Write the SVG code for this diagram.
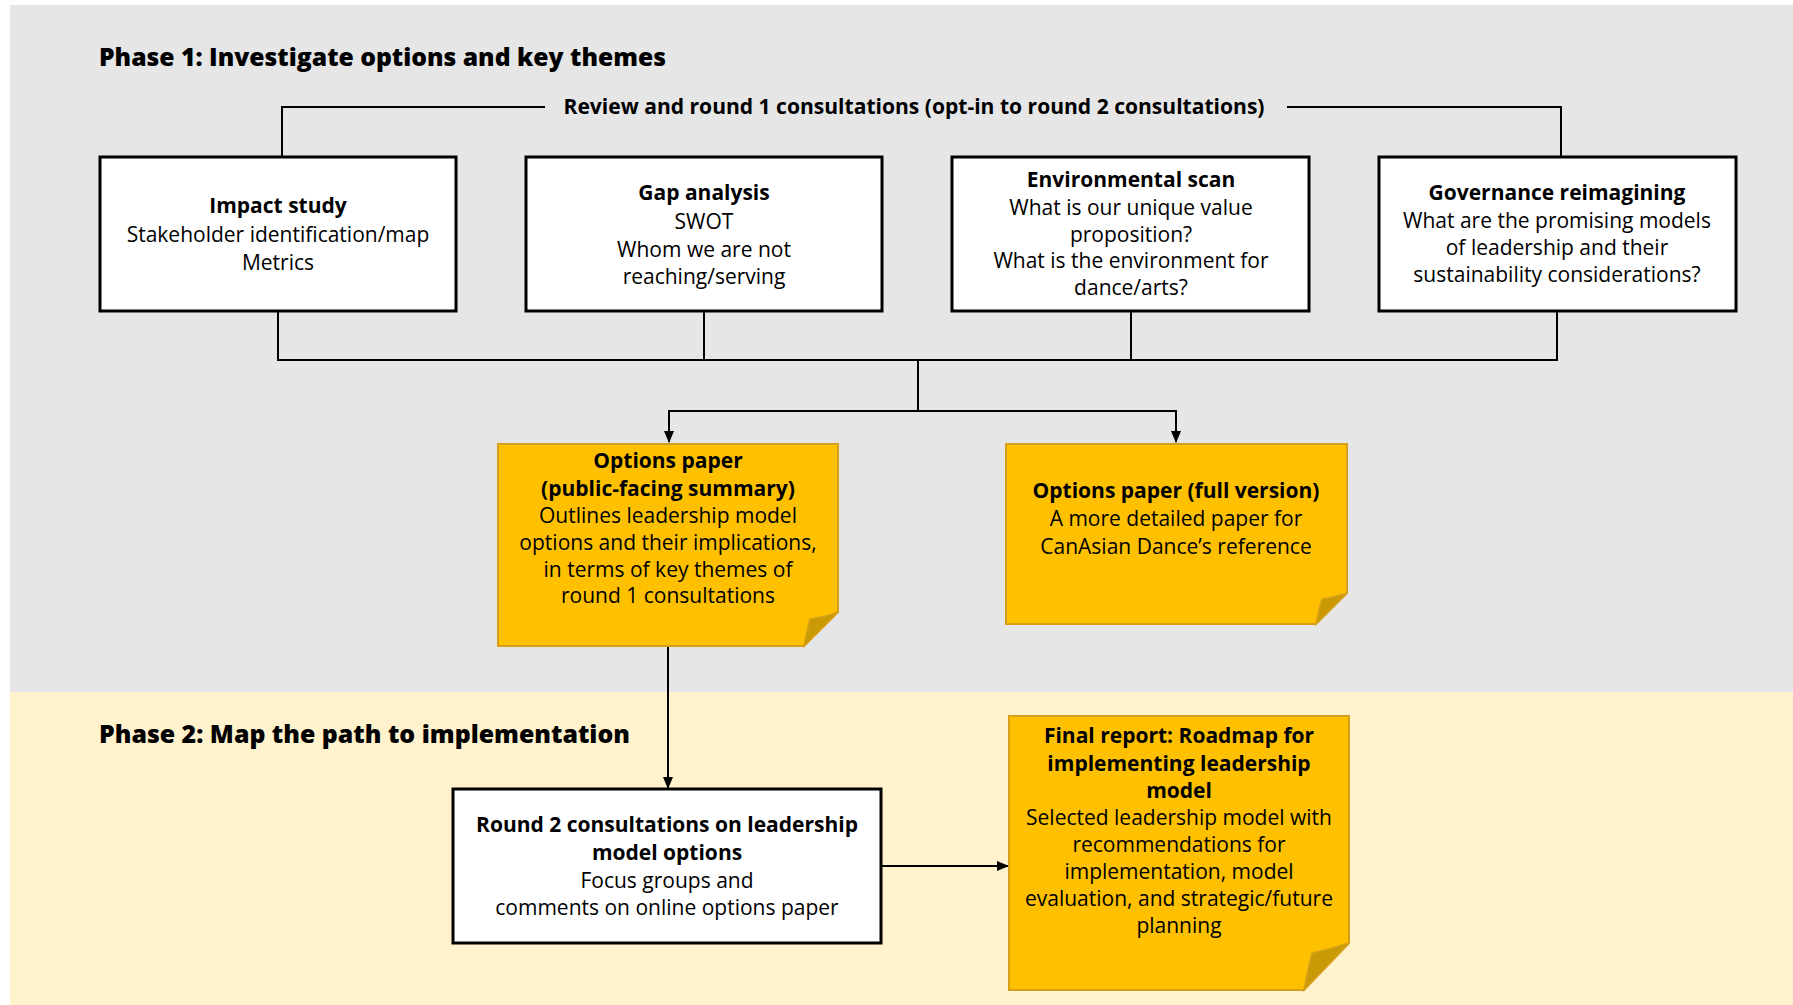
<svg xmlns="http://www.w3.org/2000/svg" width="1793" height="1005" viewBox="0 0 1793 1005">
<defs>
<style>
.t{font-family:"Open Sans","Noto Sans",sans-serif;font-size:21px;fill:#000;text-anchor:middle}
.b{font-weight:700}
.ph{font-family:"Open Sans","Noto Sans",sans-serif;font-weight:800;font-size:25px;fill:#000}
.box{fill:#fff;stroke:#000;stroke-width:3}
.note{fill:#FFC000;stroke:#D4A017;stroke-width:2}
.fold{fill:#C99A06;stroke:#D4A017;stroke-width:1.5}
.ln{fill:none;stroke:#000;stroke-width:2}
</style>
<marker id="arr" viewBox="0 0 12 10" refX="11" refY="5" markerWidth="12" markerHeight="10" orient="auto" markerUnits="userSpaceOnUse">
<path d="M0,0 L12,5 L0,10 Z" fill="#000"/>
</marker>
</defs>
<rect x="0" y="0" width="1793" height="1005" fill="#fff"/>
<rect x="10" y="5" width="1783" height="687" fill="#E6E6E6"/>
<rect x="10" y="692" width="1783" height="313" fill="#FFF2CC"/>

<text class="ph" x="99" y="66" textLength="567" lengthAdjust="spacingAndGlyphs">Phase 1: Investigate options and key themes</text>
<text class="ph" x="99" y="743" textLength="531" lengthAdjust="spacingAndGlyphs">Phase 2: Map the path to implementation</text>

<g id="connectors">
<polyline class="ln" points="282,157 282,107 545,107"/>
<polyline class="ln" points="1287,107 1561,107 1561,157"/>
<text class="t b" x="914" y="114" textLength="701" lengthAdjust="spacingAndGlyphs">Review and round 1 consultations (opt-in to round 2 consultations)</text>
<line class="ln" x1="278" y1="311" x2="278" y2="360"/>
<line class="ln" x1="704" y1="311" x2="704" y2="360"/>
<line class="ln" x1="1131" y1="311" x2="1131" y2="360"/>
<line class="ln" x1="1557" y1="311" x2="1557" y2="360"/>
<line class="ln" x1="277" y1="360" x2="1558" y2="360"/>
<line class="ln" x1="918" y1="360" x2="918" y2="411"/>
<polyline class="ln" points="669,441 669,411 1176,411"/>
<line class="ln" x1="669" y1="420" x2="669" y2="442" marker-end="url(#arr)"/>
<line class="ln" x1="1176" y1="410" x2="1176" y2="442" marker-end="url(#arr)"/>
<line class="ln" x1="668" y1="646" x2="668" y2="788" marker-end="url(#arr)"/>
<line class="ln" x1="881" y1="866" x2="1008" y2="866" marker-end="url(#arr)"/>
</g>

<g id="impact-study">
<rect class="box" x="100" y="157" width="356" height="154"/>
<text class="t b" x="278" y="213">Impact study</text>
<text class="t" x="278" y="242">Stakeholder identification/map</text>
<text class="t" x="278" y="270">Metrics</text>
</g>

<g id="gap-analysis">
<rect class="box" x="526" y="157" width="356" height="154"/>
<text class="t b" x="704" y="200">Gap analysis</text>
<text class="t" x="704" y="229">SWOT</text>
<text class="t" x="704" y="257">Whom we are not</text>
<text class="t" x="704" y="284">reaching/serving</text>
</g>

<g id="environmental-scan">
<rect class="box" x="952" y="157" width="357" height="154"/>
<text class="t b" x="1131" y="187">Environmental scan</text>
<text class="t" x="1131" y="215">What is our unique value</text>
<text class="t" x="1131" y="242">proposition?</text>
<text class="t" x="1131" y="268">What is the environment for</text>
<text class="t" x="1131" y="295">dance/arts?</text>
</g>

<g id="governance-reimagining">
<rect class="box" x="1379" y="157" width="357" height="154"/>
<text class="t b" x="1557" y="200">Governance reimagining</text>
<text class="t" x="1557" y="228">What are the promising models</text>
<text class="t" x="1557" y="255">of leadership and their</text>
<text class="t" x="1557" y="282">sustainability considerations?</text>
</g>

<g id="options-summary">
<path class="note" d="M498,444 H838 V612 L804,646 H498 Z"/>
<path class="fold" d="M838,612 L804,646 Q807,630 810,619 Q825,617 838,612 Z"/>
<text class="t b" x="668" y="468">Options paper</text>
<text class="t b" x="668" y="496">(public-facing summary)</text>
<text class="t" x="668" y="523">Outlines leadership model</text>
<text class="t" x="668" y="550">options and their implications,</text>
<text class="t" x="668" y="577">in terms of key themes of</text>
<text class="t" x="668" y="603">round 1 consultations</text>
</g>

<g id="options-full">
<path class="note" d="M1006,444 H1347 V593 L1316,624 H1006 Z"/>
<path class="fold" d="M1347,593 L1316,624 Q1319,608 1322,599 Q1335,597 1347,593 Z"/>
<text class="t b" x="1176" y="498">Options paper (full version)</text>
<text class="t" x="1176" y="526">A more detailed paper for</text>
<text class="t" x="1176" y="554">CanAsian Dance’s reference</text>
</g>

<g id="round2">
<rect class="box" x="453" y="789" width="428" height="154"/>
<text class="t b" x="667" y="832">Round 2 consultations on leadership</text>
<text class="t b" x="667" y="860">model options</text>
<text class="t" x="667" y="888">Focus groups and</text>
<text class="t" x="667" y="915">comments on online options paper</text>
</g>

<g id="final-report">
<path class="note" d="M1009,716 H1349 V943 L1304,990 H1009 Z"/>
<path class="fold" d="M1349,943 L1304,990 Q1308,968 1312,953 Q1331,949 1349,943 Z"/>
<text class="t b" x="1179" y="743">Final report: Roadmap for</text>
<text class="t b" x="1179" y="771">implementing leadership</text>
<text class="t b" x="1179" y="798">model</text>
<text class="t" x="1179" y="825">Selected leadership model with</text>
<text class="t" x="1179" y="852">recommendations for</text>
<text class="t" x="1179" y="879">implementation, model</text>
<text class="t" x="1179" y="906">evaluation, and strategic/future</text>
<text class="t" x="1179" y="933">planning</text>
</g>
</svg>
